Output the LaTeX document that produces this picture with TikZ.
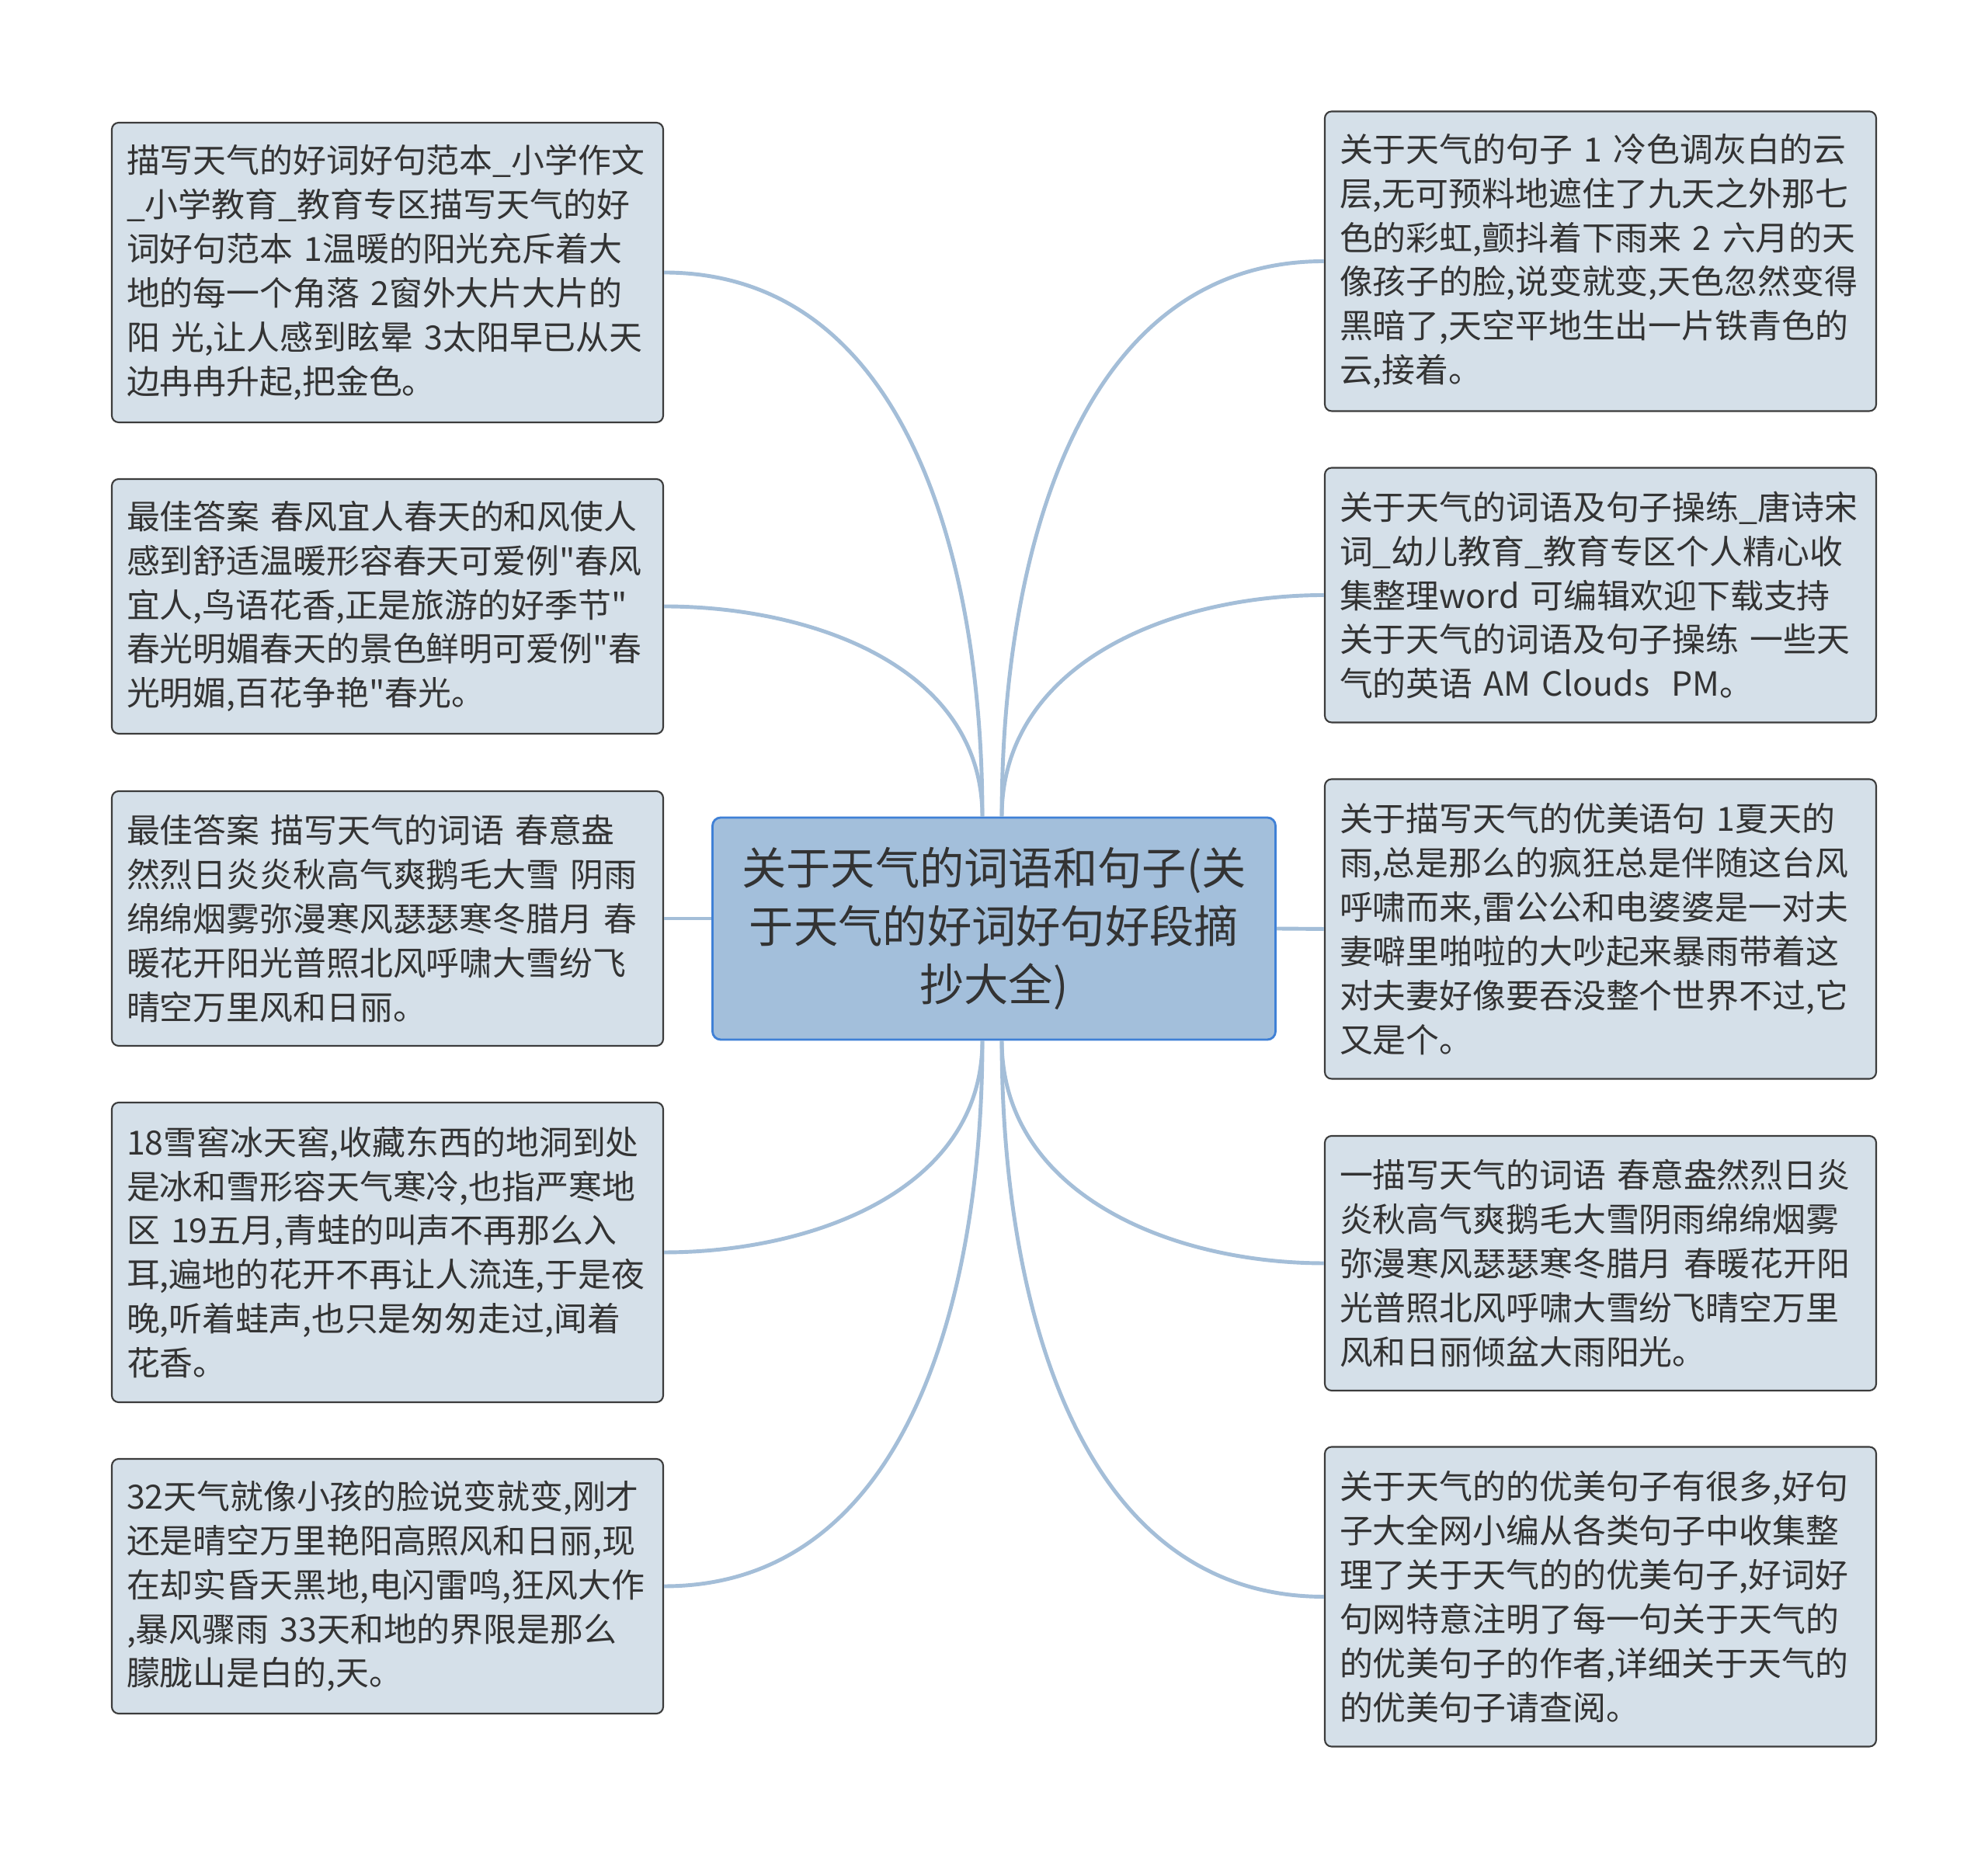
\documentclass[tikz,border=0pt]{standalone}
\usepackage{fontspec}
\newfontfamily\cjkfont{Noto Sans CJK SC}
\definecolor{leaffill}{HTML}{D5E0E9}
\definecolor{leafline}{HTML}{3C3C3C}
\definecolor{mainfill}{HTML}{A3BFDB}
\definecolor{mainline}{HTML}{3F80D6}
\definecolor{branchblue}{HTML}{A4BED8}
\definecolor{textgray}{HTML}{333333}

\begin{document}
\begin{tikzpicture}[
  leaf/.style={draw=leafline, fill=leaffill, rounded corners=2.5pt, line width=0.6pt,
    text=textgray, font=\cjkfont\fontsize{12.2}{16.2}\selectfont, align=left,
    text width=6.72cm, inner xsep=0.19cm, minimum height=#1},
  leaf/.default=3.28cm,
  centerbox/.style={draw=mainline, fill=mainfill, rounded corners=3pt, line width=0.8pt,
    text=textgray, font=\cjkfont\fontsize{16.3}{21.3}\selectfont, align=center,
    minimum width=7.25cm, minimum height=2.86cm},
  branch/.style={draw=branchblue, line width=1.4pt}
]
  \fill[white] (0,0) rectangle (25.6,23.93);

  \node[centerbox] (main) at (12.8,11.97) {关于天气的词语和句子(关\\于天气的好词好句好段摘\\抄大全)};

  \node[leaf=3.86cm] (l1) at (4.99,20.42) {描写天气的好词好句范本\_小学作文\\\_小学教育\_教育专区描写天气的好\\词好句范本 1温暖的阳光充斥着大\\地的每一个角落 2窗外大片大片的\\阳 光,让人感到眩晕 3太阳早已从天\\边冉冉升起,把金色。};
  \node[leaf] (l2) at (4.99,16.12) {最佳答案 春风宜人春天的和风使人\\感到舒适温暖形容春天可爱例"春风\\宜人,鸟语花香,正是旅游的好季节"\\春光明媚春天的景色鲜明可爱例"春\\光明媚,百花争艳"春光。};
  \node[leaf] (l3) at (4.99,12.10) {最佳答案 描写天气的词语 春意盎\\然烈日炎炎秋高气爽鹅毛大雪 阴雨\\绵绵烟雾弥漫寒风瑟瑟寒冬腊月 春\\暖花开阳光普照北风呼啸大雪纷飞\\晴空万里风和日丽。};
  \node[leaf=3.86cm] (l4) at (4.99,7.80) {18雪窖冰天窖,收藏东西的地洞到处\\是冰和雪形容天气寒冷,也指严寒地\\区 19五月,青蛙的叫声不再那么入\\耳,遍地的花开不再让人流连,于是夜\\晚,听着蛙声,也只是匆匆走过,闻着\\花香。};
  \node[leaf] (l5) at (4.99,3.50) {32天气就像小孩的脸说变就变,刚才\\还是晴空万里艳阳高照风和日丽,现\\在却实昏天黑地,电闪雷鸣,狂风大作\\,暴风骤雨 33天和地的界限是那么\\朦胧山是白的,天。};

  \node[leaf=3.86cm] (r1) at (20.61,20.565) {关于天气的句子 1 冷色调灰白的云\\层,无可预料地遮住了九天之外那七\\色的彩虹,颤抖着下雨来 2 六月的天\\像孩子的脸,说变就变,天色忽然变得\\黑暗了,天空平地生出一片铁青色的\\云,接着。};
  \node[leaf] (r2) at (20.61,16.265) {关于天气的词语及句子操练\_唐诗宋\\词\_幼儿教育\_教育专区个人精心收\\集整理word 可编辑欢迎下载支持\\关于天气的词语及句子操练 一些天\\气的英语 AM Clouds\ \ PM。};
  \node[leaf=3.86cm] (r3) at (20.61,11.965) {关于描写天气的优美语句 1夏天的\\雨,总是那么的疯狂总是伴随这台风\\呼啸而来,雷公公和电婆婆是一对夫\\妻噼里啪啦的大吵起来暴雨带着这\\对夫妻好像要吞没整个世界不过,它\\又是个。};
  \node[leaf] (r4) at (20.61,7.66) {一描写天气的词语 春意盎然烈日炎\\炎秋高气爽鹅毛大雪阴雨绵绵烟雾\\弥漫寒风瑟瑟寒冬腊月 春暖花开阳\\光普照北风呼啸大雪纷飞晴空万里\\风和日丽倾盆大雨阳光。};
  \node[leaf=3.86cm] (r5) at (20.61,3.365) {关于天气的的优美句子有很多,好句\\子大全网小编从各类句子中收集整\\理了关于天气的的优美句子,好词好\\句网特意注明了每一句关于天气的\\的优美句子的作者,详细关于天气的\\的优美句子请查阅。};

  \coordinate (topl) at ([xshift=-0.15cm]main.north);
  \coordinate (topr) at ([xshift=0.1cm]main.north);
  \coordinate (botl) at ([xshift=-0.15cm]main.south);
  \coordinate (botr) at ([xshift=0.1cm]main.south);

  \foreach \n in {l1,l2}
    \draw[branch] (\n.east) to[out=0,in=90] (topl);
  \foreach \n in {l4,l5}
    \draw[branch] (\n.east) to[out=0,in=-90] (botl);
  \foreach \n in {r1,r2}
    \draw[branch] (\n.west) to[out=180,in=90] (topr);
  \foreach \n in {r4,r5}
    \draw[branch] (\n.west) to[out=180,in=-90] (botr);
  \draw[branch] (l3.east) -- (l3.east -| main.west);
  \draw[branch] (main.east) -- (r3.west);
\end{tikzpicture}
\end{document}
